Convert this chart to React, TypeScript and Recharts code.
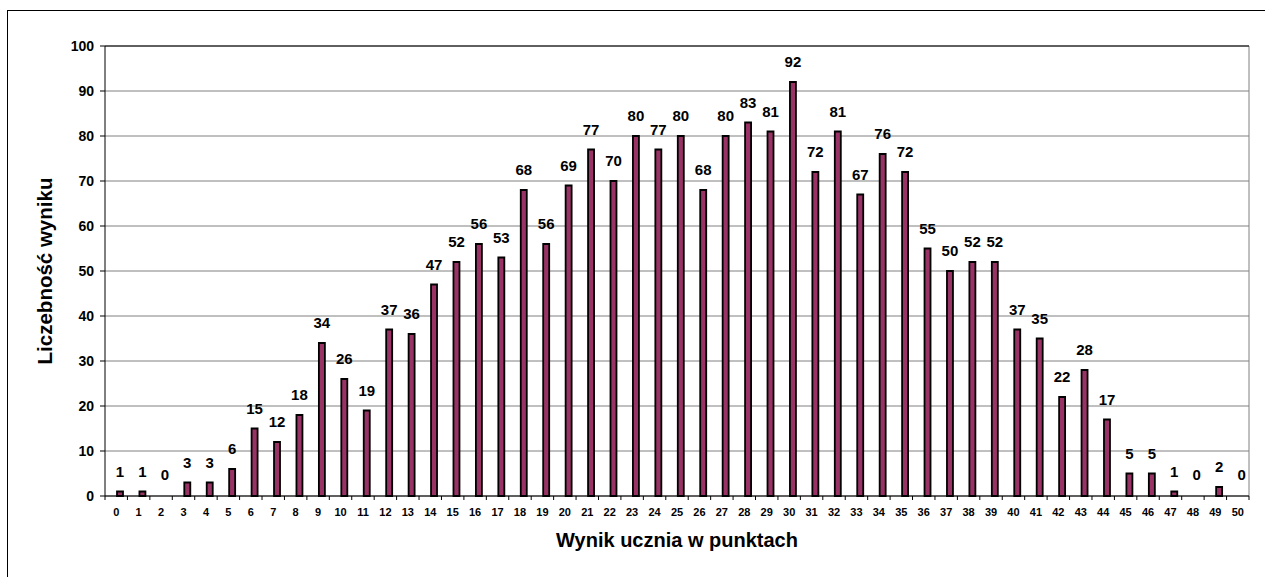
import { Bar, BarChart, CartesianGrid, LabelList, Rectangle, ReferenceLine, XAxis, YAxis } from 'recharts'

const points = [
  0, 1, 2, 3, 4, 5, 6, 7, 8, 9, 10, 11, 12, 13, 14, 15, 16, 17, 18, 19, 20, 21, 22, 23, 24, 25,
  26, 27, 28, 29, 30, 31, 32, 33, 34, 35, 36, 37, 38, 39, 40, 41, 42, 43, 44, 45, 46, 47, 48, 49, 50,
]
const counts = [
  1, 1, 0, 3, 3, 6, 15, 12, 18, 34, 26, 19, 37, 36, 47, 52, 56, 53, 68, 56, 69, 77, 70, 80, 77, 80,
  68, 80, 83, 81, 92, 72, 81, 67, 76, 72, 55, 50, 52, 52, 37, 35, 22, 28, 17, 5, 5, 1, 0, 2, 0,
]
const yTicks = [0, 10, 20, 30, 40, 50, 60, 70, 80, 90, 100]

const data = points.map((p, i) => ({ wynik: String(p), liczba: counts[i] }))

const font = '"Liberation Sans", Arial, sans-serif'
const lastLabel = String(points[points.length - 1])

function BoundaryTick(props: any) {
  const { x, y, payload } = props
  const half = payload?.offset ?? 11.2
  return (
    <g>
      <line x1={x - half} x2={x - half} y1={y - 4} y2={y} stroke="#000" />
      {payload.value === lastLabel && <line x1={x + half} x2={x + half} y1={y - 4} y2={y} stroke="#000" />}
      <text x={x} y={y + 16} textAnchor="middle" fontFamily={font} fontWeight="bold" fontSize={11} fill="#000">
        {payload.value}
      </text>
    </g>
  )
}

// zero values keep their label but draw no bar
function CountBar(props: any) {
  if (!props.payload || props.payload.liczba === 0) return <g />
  return <Rectangle {...props} />
}

export default function App() {
  return (
    <div style={{ position: 'absolute', left: 0, top: 0, width: 1265, height: 577, overflow: 'hidden', background: '#fff' }}>
      <div
        style={{
          position: 'absolute',
          left: 7,
          top: 10,
          width: 1300,
          height: 600,
          borderTop: '1px solid #000',
          borderLeft: '1px solid #000',
        }}
      />
      <div style={{ position: 'absolute', left: 0, top: 0 }}>
        <BarChart
          width={1265}
          height={577}
          data={data}
          margin={{ top: 46, right: 16, bottom: 51, left: 45 }}
          barGap={1}
          barCategoryGap={0}
        >
          <CartesianGrid vertical={false} stroke="#808080" />
          <CartesianGrid
            horizontal={false}
            stroke="#808080"
            verticalCoordinatesGenerator={({ offset }: any) => [offset.left + offset.width]}
          />
          <ReferenceLine y={100} stroke="#000" />
          <XAxis
            dataKey="wynik"
            height={30}
            tickLine={false}
            tickSize={4}
            tickMargin={0}
            interval={0}
            axisLine={{ stroke: '#000' }}
            tick={<BoundaryTick />}
            label={{
              value: 'Wynik ucznia w punktach',
              position: 'bottom',
              offset: 7,
              style: { fontFamily: font, fontWeight: 'bold', fontSize: 20, fill: '#000' },
            }}
          />
          <YAxis
            width={60}
            domain={[0, 100]}
            ticks={yTicks}
            interval={0}
            tickSize={5}
            tickMargin={6}
            axisLine={{ stroke: '#000' }}
            tickLine={{ stroke: '#000' }}
            tick={{ fontFamily: font, fontWeight: 'bold', fontSize: 14, fill: '#000' }}
            label={{
              value: 'Liczebność wyniku',
              angle: -90,
              position: 'insideLeft',
              offset: 0,
              style: { textAnchor: 'middle', fontFamily: font, fontWeight: 'bold', fontSize: 20.5, fill: '#000' },
            }}
          />
          <Bar dataKey="pusta" barSize={6} isAnimationActive={false} />
          <Bar
            dataKey="liczba"
            barSize={6}
            minPointSize={1}
            fill="#993366"
            stroke="#000"
            strokeWidth={1.8}
            shape={CountBar}
            isAnimationActive={false}
          >
            <LabelList
              dataKey="liczba"
              position="top"
              offset={15}
              style={{ fontFamily: font, fontWeight: 'bold', fontSize: 15, fill: '#000' }}
            />
          </Bar>
        </BarChart>
      </div>
    </div>
  )
}
